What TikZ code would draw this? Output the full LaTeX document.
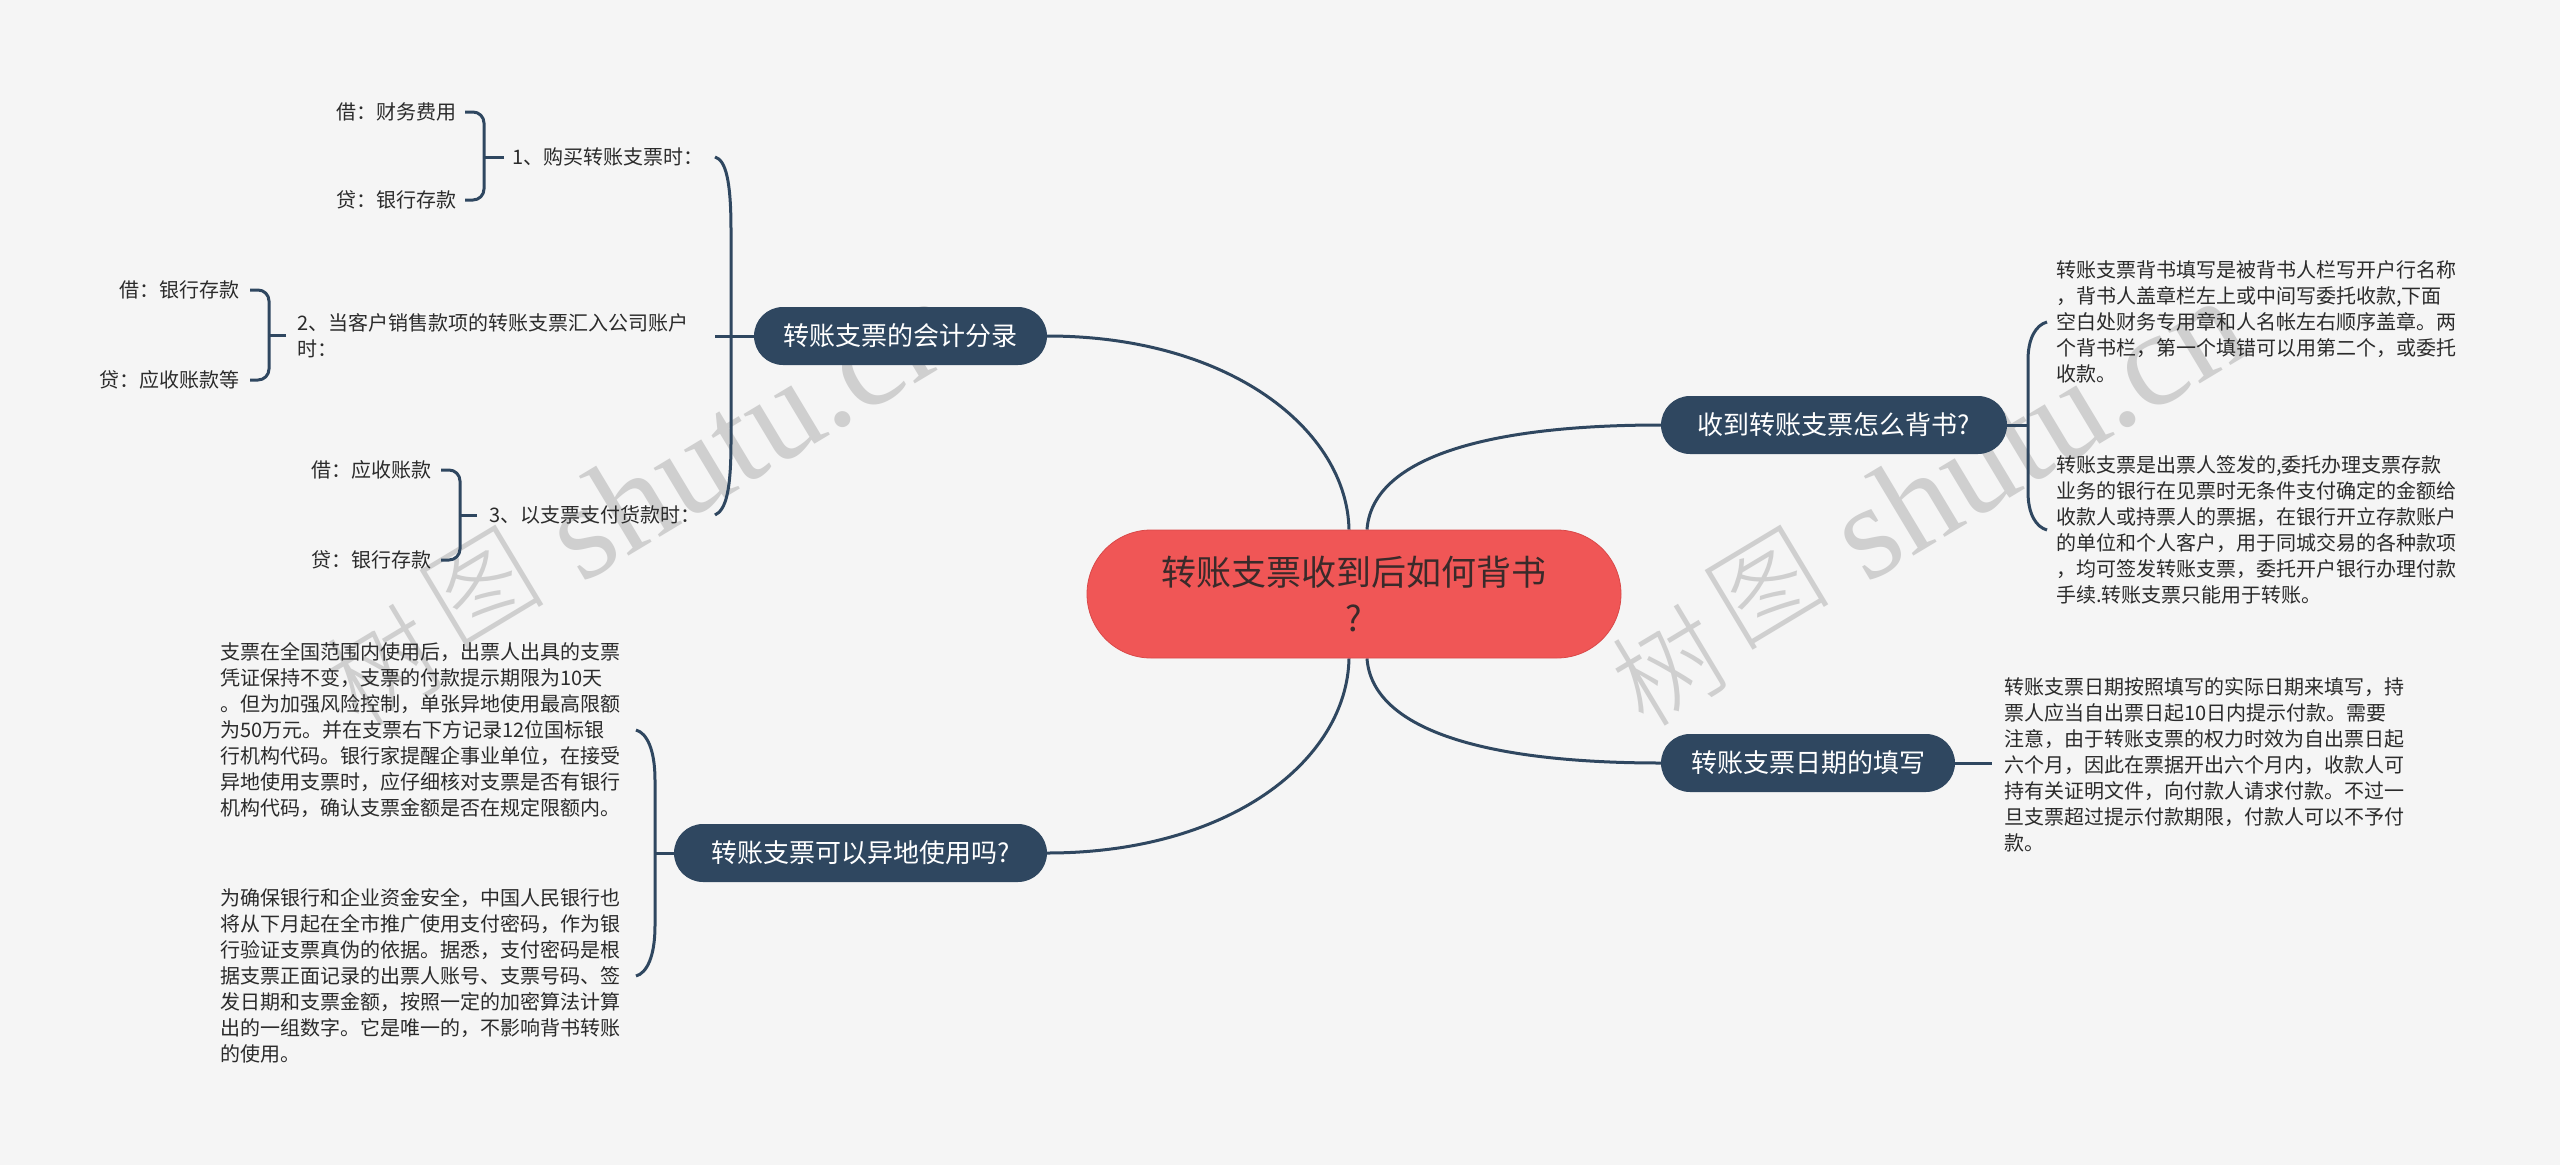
\documentclass[tikz,border=0pt]{standalone}
\usepackage{fontspec}
\setmainfont{Noto Sans CJK SC}
\newfontfamily\wmserif{Liberation Serif}
\newfontfamily\wmcjk{Noto Sans CJK SC Light}
\definecolor{bgc}{HTML}{F5F5F5}
\definecolor{navy}{HTML}{2F4760}
\definecolor{rootred}{HTML}{F05656}
\definecolor{rootedge}{HTML}{D94848}
\definecolor{roottext}{HTML}{3A2A2A}
\definecolor{leaftext}{HTML}{2B2B2B}
\definecolor{wmgray}{HTML}{CFCFCF}
\pgfdeclarelayer{wmlayer}
\pgfdeclarelayer{linelayer}
\pgfsetlayers{wmlayer,linelayer,main}
\begin{document}
\begin{tikzpicture}[x=1pt,y=-1pt,
  rootbox/.style={fill=rootred, draw=rootedge, line width=0.8pt, rounded corners=64pt,
    minimum width=534pt, minimum height=128pt, inner sep=0pt, align=center,
    text=roottext, font=\fontsize{35}{46}\selectfont},
  branch/.style={fill=navy, text=white, rounded corners=29pt, minimum height=58pt,
    inner sep=0pt, font=\fontsize{26}{32}\selectfont},
  leaf/.style={inner sep=0pt, align=left, text=leaftext, font=\fontsize{20}{26}\selectfont},
  conn/.style={draw=navy, line width=3pt},
  wmc/.style={text=wmgray, rotate=31, inner sep=0pt, font=\wmcjk\fontsize{108}{108}\selectfont},
  wml/.style={text=wmgray, rotate=31, inner sep=0pt, font=\wmserif\fontsize{135}{135}\selectfont}
]
\begin{pgfonlayer}{wmlayer}
\useasboundingbox (0,0) rectangle (2560,1165);
\fill[bgc] (0,0) rectangle (2560,1165);
% watermarks (behind everything)
\node[wmc] (w1a) at (385,666) {树};
\node[wmc] (w1b) at (482,588) {图};
\node[wml] (w1c) at (752,428) {shutu.cn};
\node[wmc] (w2a) at (1670,666) {树};
\node[wmc] (w2b) at (1767,588) {图};
\node[wml] (w2c) at (2037,428) {shutu.cn};
\end{pgfonlayer}

% main nodes
\node[rootbox] (root) at (1354,594) {转账支票收到后如何背书\\?};
\node[branch, minimum width=293pt] (acc) at (900.5,336) {转账支票的会计分录};
\node[branch, minimum width=373pt] (yd) at (860.5,853) {转账支票可以异地使用吗?};
\node[branch, minimum width=346pt] (bs) at (1834,425) {收到转账支票怎么背书?};
\node[branch, minimum width=294pt] (rq) at (1808,763) {转账支票日期的填写};

% main connectors (below the nodes)
\begin{pgfonlayer}{linelayer}
\draw[conn] ([xshift=-5pt]root.north) .. controls (1347,430) and (1230,336) .. (acc.east);
\draw[conn] ([xshift=-5pt]root.south) .. controls (1347,760) and (1230,853) .. (yd.east);
\draw[conn] ([xshift=13pt]root.north) .. controls (1372,460) and (1480,425) .. (bs.west);
\draw[conn] ([xshift=13pt]root.south) .. controls (1372,728) and (1480,763) .. (rq.west);
\end{pgfonlayer}

% accounting entries
\node[leaf, anchor=west] (L1) at (512,157) {1、购买转账支票时：};
\node[leaf, anchor=west] (L2) at (297,335.5) {2、当客户销售款项的转账支票汇入公司账户\\时：};
\node[leaf, anchor=west] (L3) at (489,515) {3、以支票支付货款时：};
\node[leaf, anchor=east] (A1) at (457,112) {借：财务费用};
\node[leaf, anchor=east] (A2) at (457,200) {贷：银行存款};
\node[leaf, anchor=east] (B1) at (240,290) {借：银行存款};
\node[leaf, anchor=east] (B2) at (240,380) {贷：应收账款等};
\node[leaf, anchor=east] (C1) at (432,470) {借：应收账款};
\node[leaf, anchor=east] (C2) at (432,560) {贷：银行存款};

\coordinate (accT) at (715,157);
\coordinate (accB) at (715,515);
\coordinate (accM) at (715,336);
\begin{pgfonlayer}{linelayer}
\draw[conn] (accT) .. controls (726,160) and (731,182) .. (731,230) -- (731,442)
  .. controls (731,490) and (726,510) .. (accB);
\draw[conn] (acc.west) -- (accM);
\end{pgfonlayer}

\coordinate (a1T) at (465,112);
\coordinate (a1B) at (465,200);
\coordinate (a1M) at (484,157);
\draw[conn, rounded corners=11pt] (a1T) -- ++(19,0) |- (a1B);
\draw[conn] ([xshift=-8pt]L1.west) -- (a1M);

\coordinate (b1T) at (250,290);
\coordinate (b1B) at (250,380);
\coordinate (b1M) at (269,335);
\draw[conn, rounded corners=11pt] (b1T) -- ++(19,0) |- (b1B);
\draw[conn] ([xshift=-11pt]L2.west |- b1M) -- (b1M);

\coordinate (c1T) at (441,470);
\coordinate (c1B) at (441,560);
\coordinate (c1M) at (460,515);
\draw[conn, rounded corners=11pt] (c1T) -- ++(19,0) |- (c1B);
\draw[conn] ([xshift=-12pt]L3.west) -- (c1M);

% remote use
\node[leaf, anchor=west] (D1) at (220,730) {支票在全国范围内使用后，出票人出具的支票\\凭证保持不变，支票的付款提示期限为10天\\。但为加强风险控制，单张异地使用最高限额\\为50万元。并在支票右下方记录12位国标银\\行机构代码。银行家提醒企事业单位，在接受\\异地使用支票时，应仔细核对支票是否有银行\\机构代码，确认支票金额是否在规定限额内。};
\node[leaf, anchor=west] (D2) at (220,976) {为确保银行和企业资金安全，中国人民银行也\\将从下月起在全市推广使用支付密码，作为银\\行验证支票真伪的依据。据悉，支付密码是根\\据支票正面记录的出票人账号、支票号码、签\\发日期和支票金额，按照一定的加密算法计算\\出的一组数字。它是唯一的，不影响背书转账\\的使用。};
\coordinate (dT) at (636,730);
\coordinate (dB) at (636,976);
\coordinate (dM) at (655,853);
\begin{pgfonlayer}{linelayer}
\draw[conn] (dT) .. controls (647,733) and (655,750) .. (655,780) -- (655,926)
  .. controls (655,956) and (647,973) .. (dB);
\draw[conn] (yd.west) -- (dM);
\end{pgfonlayer}

% endorsement
\node[leaf, anchor=west] (E1) at (2056,322) {转账支票背书填写是被背书人栏写开户行名称\\，背书人盖章栏左上或中间写委托收款,下面\\空白处财务专用章和人名帐左右顺序盖章。两\\个背书栏，第一个填错可以用第二个，或委托\\收款。};
\node[leaf, anchor=west] (E2) at (2056,530) {转账支票是出票人签发的,委托办理支票存款\\业务的银行在见票时无条件支付确定的金额给\\收款人或持票人的票据，在银行开立存款账户\\的单位和个人客户，用于同城交易的各种款项\\，均可签发转账支票，委托开户银行办理付款\\手续.转账支票只能用于转账。};
\coordinate (eT) at (2047,322);
\coordinate (eB) at (2047,530);
\coordinate (eM) at (2028,425);
\begin{pgfonlayer}{linelayer}
\draw[conn] (eT) .. controls (2036,325) and (2028,338) .. (2028,360) -- (2028,492)
  .. controls (2028,514) and (2036,527) .. (eB);
\draw[conn] (bs.east) -- (eM);
\end{pgfonlayer}

% date
\node[leaf, anchor=west] (F1) at (2004,765) {转账支票日期按照填写的实际日期来填写，持\\票人应当自出票日起10日内提示付款。需要\\注意，由于转账支票的权力时效为自出票日起\\六个月，因此在票据开出六个月内，收款人可\\持有关证明文件，向付款人请求付款。不过一\\旦支票超过提示付款期限，付款人可以不予付\\款。};
\coordinate (fM) at (1992,763);
\begin{pgfonlayer}{linelayer}
\draw[conn] (rq.east) -- (fM);
\end{pgfonlayer}
\end{tikzpicture}
\end{document}
